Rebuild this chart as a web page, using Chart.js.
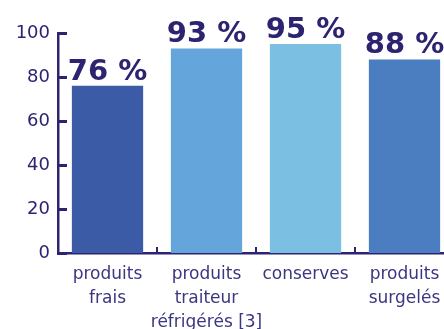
<!DOCTYPE html>
<html>
<head>
<meta charset="utf-8">
<script src="https://cdn.jsdelivr.net/npm/chart.js@4/dist/chart.umd.min.js"></script>
<style>
  html, body { margin: 0; padding: 0; background: #fff; overflow: hidden; }
  #wrap { width: 454px; height: 329px; }
</style>
</head>
<body>
<div id="wrap"><canvas id="bars"></canvas></div>
<script>
const categories = [['produits', 'frais'], ['produits', 'traiteur', 'réfrigérés [3]'], 'conserves', ['produits', 'surgelés']];
const shares = [76, 93, 95, 88];
const barColors = ['#3c5ba6', '#64a5dc', '#7bc0e2', '#4a7ec0'];
const yTicks = [0, 20, 40, 60, 80, 100];

const ink = '#2c2470';

// percentage labels above each bar
const valueLabels = {
    id: 'valueLabels',
    afterDatasetsDraw(chart) {
        const ctx = chart.ctx;
        const meta = chart.getDatasetMeta(0);
        ctx.save();
        ctx.font = 'bold 29px "DejaVu Sans"';
        ctx.fillStyle = ink;
        ctx.textAlign = 'center';
        ctx.textBaseline = 'alphabetic';
        meta.data.forEach((bar, i) => {
            ctx.fillText(shares[i] + ' %', bar.x, bar.y - 6);
        });
        ctx.restore();
    }
};

// tick marks pointing into the plot, as in the original
const innerTicks = {
    id: 'innerTicks',
    afterDraw(chart) {
        const ctx = chart.ctx;
        const xs = chart.scales.x, ys = chart.scales.y;
        const left = ys.right, bottom = xs.top;
        ctx.save();
        ctx.fillStyle = ink;
        yTicks.forEach(v => {
            const py = Math.round(ys.getPixelForValue(v));
            ctx.fillRect(left - 1, py - 1, 10, 3);
        });
        for (let i = 0; i < categories.length - 1; i++) {
            const px = Math.round((xs.getPixelForValue(i) + xs.getPixelForValue(i + 1)) / 2);
            ctx.fillRect(px - 1, bottom - 6, 2, 6);
        }
        ctx.restore();
    }
};

new Chart(document.getElementById('bars'), {
    type: 'bar',
    data: {
        labels: categories,
        datasets: [{
            data: shares,
            backgroundColor: barColors,
            borderWidth: 0,
            barPercentage: 0.72,
            categoryPercentage: 1
        }]
    },
    options: {
        responsive: true,
        maintainAspectRatio: false,
        animation: false,
        layout: { padding: { top: 33, right: 0, left: 0, bottom: 0 } },
        plugins: {
            legend: { display: false },
            tooltip: { enabled: false }
        },
        scales: {
            x: {
                offset: true,
                border: { color: ink, width: 2.5 },
                grid: { display: false, drawTicks: false },
                ticks: {
                    color: '#3b3680',
                    font: { family: '"DejaVu Sans"', size: 17, lineHeight: 1.4 },
                    padding: 10,
                    maxRotation: 0,
                    autoSkip: false
                },
                afterFit(scale) { scale.height = 76; }
            },
            y: {
                min: 0,
                max: 100,
                border: { color: ink, width: 2.5 },
                grid: { display: false, drawTicks: false },
                afterBuildTicks(scale) {
                    scale.ticks = yTicks.map(v => ({ value: v }));
                },
                ticks: {
                    color: ink,
                    font: { family: '"DejaVu Sans"', size: 18 },
                    padding: 8
                },
                afterFit(scale) { scale.width = 58; }
            }
        }
    },
    plugins: [valueLabels, innerTicks]
});
</script>
</body>
</html>
